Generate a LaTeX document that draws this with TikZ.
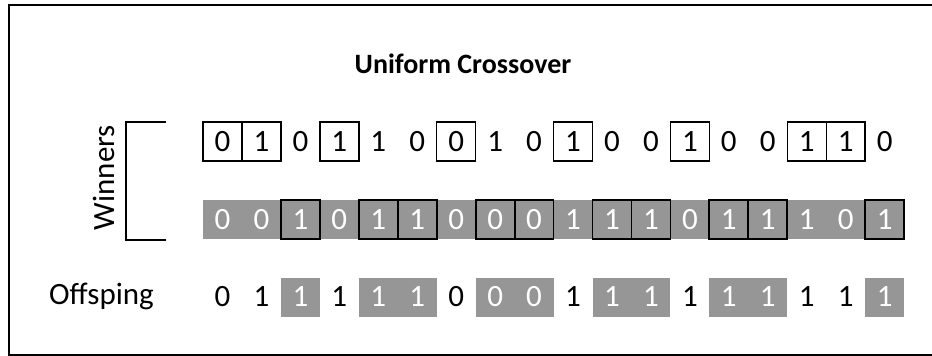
\documentclass[tikz,border=0pt]{standalone}
\usepackage{fontspec}
\setmainfont{Carlito}
\definecolor{cellgray}{RGB}{150,150,150}
\begin{document}
\begin{tikzpicture}[x=1pt,y=-1pt,
  txt/.style={font=\fontsize{31}{36}\selectfont, inner sep=0pt},
  cell/.style={txt, minimum width=38.95pt, minimum height=39pt, anchor=center},
  plainA/.style={cell, text=black},
  boxA/.style={cell, text=black, draw=black, line width=1.4pt},
  plainB/.style={cell, text=white},
  boxB/.style={cell, text=white, draw=black, line width=1.8pt},
  plainC/.style={cell, text=black},
  grayC/.style={cell, text=white, fill=cellgray},
  frameline/.style={line width=2pt, draw=black},
  bracket/.style={line width=1.5pt, draw=black}
]
\useasboundingbox (0,0) rectangle (932,356);
% frame
\draw[frameline] (932,5) -- (9,5) -- (9,355) -- (932,355);
% title
\node[font=\fontsize{28}{33}\selectfont\bfseries, inner sep=0pt] (title) at (463,64) {Uniform Crossover};
% row 1
\foreach \i/\b/\s in {1/0/boxA,2/1/boxA,3/0/plainA,4/1/boxA,5/1/plainA,6/0/plainA,7/0/boxA,8/1/plainA,9/0/plainA,10/1/boxA,11/0/plainA,12/0/plainA,13/1/boxA,14/0/plainA,15/0/plainA,16/1/boxA,17/1/boxA,18/0/plainA}
  \node[\s] (a\i) at ({203+(\i-0.5)*38.95},141.5) {\b};
% row 2 gray band
\fill[cellgray] (203,200) rectangle (904,239);
\foreach \i/\b/\s in {1/0/plainB,2/0/plainB,3/1/boxB,4/0/plainB,5/1/boxB,6/1/boxB,7/0/plainB,8/0/boxB,9/0/boxB,10/1/plainB,11/1/boxB,12/1/boxB,13/0/plainB,14/1/boxB,15/1/boxB,16/1/plainB,17/0/plainB,18/1/boxB}
  \node[\s] (b\i) at ({203+(\i-0.5)*38.95},219.5) {\b};
% row 3 offspring
\foreach \i/\b/\s in {1/0/plainC,2/1/plainC,3/1/grayC,4/1/plainC,5/1/grayC,6/1/grayC,7/0/plainC,8/0/grayC,9/0/grayC,10/1/plainC,11/1/grayC,12/1/grayC,13/1/plainC,14/1/grayC,15/1/grayC,16/1/plainC,17/1/plainC,18/1/grayC}
  \node[\s] (c\i) at ({203+(\i-0.5)*38.95},297) {\b};
% labels
\node[txt, rotate=90] (winners) at (104,177.5) {Winners};
\coordinate (bt) at (166,122);
\coordinate (bb) at (166,240);
\draw[bracket] (bt) -- (126,122) -- (126,240) -- (bb);
\node[txt, anchor=base west] (offs) at (49,304) {Offsping};
\end{tikzpicture}
\end{document}
